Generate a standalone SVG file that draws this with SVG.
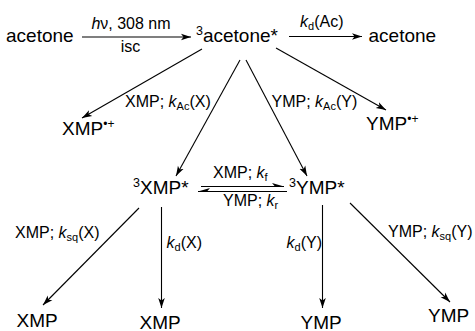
<svg xmlns="http://www.w3.org/2000/svg" width="475" height="331" viewBox="0 0 475 331">
<style>
text{font-family:"Liberation Sans",Arial,sans-serif;fill:#000}
.m{font-size:19px}
.l{font-size:16px}
.i{font-style:italic}
.c line{stroke:#000;stroke-width:1.1}
</style>
<defs>
<marker id="ah" markerUnits="userSpaceOnUse" markerWidth="11" markerHeight="8" refX="10" refY="4" orient="auto">
<path d="M0,0.7 L10,4 L0,7.3 L2.5,4 z" fill="#000"/>
</marker>
</defs>
<rect width="475" height="331" fill="#fff"/>
<g class="c" id="connectors">
<line x1="82" y1="37" x2="191" y2="37" marker-end="url(#ah)"/>
<line x1="289" y1="36.5" x2="362" y2="36.5" marker-end="url(#ah)"/>
<line x1="202" y1="49" x2="82" y2="118" marker-end="url(#ah)"/>
<line x1="276" y1="48" x2="386" y2="110" marker-end="url(#ah)"/>
<line x1="240" y1="60" x2="176" y2="176" marker-end="url(#ah)"/>
<line x1="246" y1="60" x2="307" y2="176" marker-end="url(#ah)"/>
<line x1="201" y1="186.5" x2="284" y2="186.5"/>
<polygon points="284,186.5 272,183 275,186.5" fill="#000"/>
<line x1="287" y1="191.5" x2="198" y2="191.5"/>
<polygon points="198,191.5 210,188 207,191.5" fill="#000"/>
<line x1="139" y1="208" x2="43" y2="305" marker-end="url(#ah)"/>
<line x1="161.5" y1="207" x2="161.5" y2="308" marker-end="url(#ah)"/>
<line x1="322.5" y1="205" x2="322.5" y2="308" marker-end="url(#ah)"/>
<line x1="350" y1="203" x2="450" y2="302" marker-end="url(#ah)"/>
<text class="l" x="131" y="29.3" text-anchor="middle"><tspan class="i">h</tspan>ν, 308 nm</text>
<text class="l" x="130.5" y="52.3" text-anchor="middle">isc</text>
<text class="l" x="300" y="26.7"><tspan class="i">k</tspan><tspan font-size="11" dy="3">d</tspan><tspan dy="-3">(Ac)</tspan></text>
<text class="l" x="125" y="106.7">XMP; <tspan class="i">k</tspan><tspan font-size="11" dy="3">Ac</tspan><tspan dy="-3">(X)</tspan></text>
<text class="l" x="271.5" y="106.7">YMP; <tspan class="i">k</tspan><tspan font-size="11" dy="3">Ac</tspan><tspan dy="-3">(Y)</tspan></text>
<text class="l" x="213" y="178">XMP; <tspan class="i">k</tspan><tspan font-size="11" dy="3">f</tspan></text>
<text class="l" x="223" y="206">YMP; <tspan class="i">k</tspan><tspan font-size="11" dy="3">r</tspan></text>
<text class="l" x="15" y="238">XMP; <tspan class="i">k</tspan><tspan font-size="11" dy="3">sq</tspan><tspan dy="-3">(X)</tspan></text>
<text class="l" x="166.5" y="248"><tspan class="i">k</tspan><tspan font-size="11" dy="3">d</tspan><tspan dy="-3">(X)</tspan></text>
<text class="l" x="286.5" y="248"><tspan class="i">k</tspan><tspan font-size="11" dy="3">d</tspan><tspan dy="-3">(Y)</tspan></text>
<text class="l" x="388" y="236.7">YMP; <tspan class="i">k</tspan><tspan font-size="11" dy="3">sq</tspan><tspan dy="-3">(Y)</tspan></text>
</g>
<g id="acetone1"><text class="m" x="6" y="41.5">acetone</text></g>
<g id="acetoneT"><text class="m" x="196" y="41.5"><tspan font-size="12.5" dy="-7">3</tspan><tspan dy="7">acetone*</tspan></text></g>
<g id="acetone2"><text class="m" x="368.5" y="41.5">acetone</text></g>
<g id="XMPcat"><text class="m" x="62" y="135">XMP<tspan font-size="12" dy="-7">•+</tspan></text></g>
<g id="YMPcat"><text class="m" x="366" y="130">YMP<tspan font-size="12" dy="-7">•+</tspan></text></g>
<g id="XMPT"><text class="m" x="133" y="194"><tspan font-size="12.5" dy="-7">3</tspan><tspan dy="7">XMP*</tspan></text></g>
<g id="YMPT"><text class="m" x="289" y="194"><tspan font-size="12.5" dy="-7">3</tspan><tspan dy="7">YMP*</tspan></text></g>
<g id="XMP1"><text class="m" x="16.5" y="327">XMP</text></g>
<g id="XMP2"><text class="m" x="139.5" y="328.5">XMP</text></g>
<g id="YMP1"><text class="m" x="300.5" y="328.5">YMP</text></g>
<g id="YMP2"><text class="m" x="428" y="322">YMP</text></g>
</svg>
